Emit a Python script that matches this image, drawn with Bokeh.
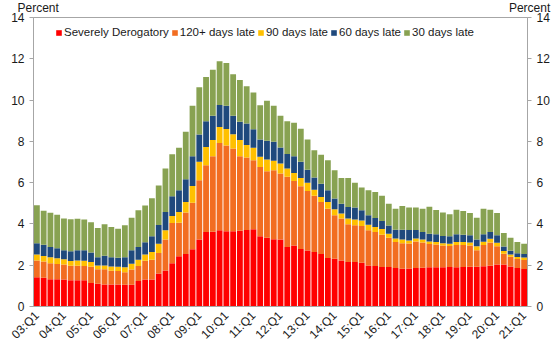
import math
from bokeh.plotting import figure
from bokeh.models import (ColumnDataSource, Range1d, LinearAxis, FixedTicker,
                          Legend, LegendItem, Label)
from bokeh.embed import file_html
from bokeh.resources import INLINE

# ---- data (percent of balance, quarterly 2003:Q1 - 2021:Q1) ----
quarters = [f"{y:02d}:Q{q}" for y in range(3, 22) for q in range(1, 5)][:73]
tick_labels = ["03:Q1", "04:Q1", "05:Q1", "06:Q1", "07:Q1", "08:Q1", "09:Q1",
               "10:Q1", "11:Q1", "12:Q1", "13:Q1", "14:Q1", "15:Q1", "16:Q1",
               "17:Q1", "18:Q1", "19:Q1", "20:Q1", "21:Q1"]

severe = [1.42, 1.39, 1.32, 1.32, 1.31, 1.27, 1.27, 1.27, 1.14, 1.10,
          1.07, 1.07, 1.06, 1.05, 1.05, 1.23, 1.31, 1.31, 1.60, 1.75,
          2.09, 2.44, 2.54, 2.77, 3.24, 3.61, 3.62, 3.69, 3.65, 3.64,
          3.67, 3.70, 3.74, 3.40, 3.33, 3.26, 3.24, 2.88, 2.96, 2.78,
          2.71, 2.64, 2.54, 2.35, 2.31, 2.23, 2.15, 2.15, 2.12, 1.99,
          1.96, 1.91, 1.91, 1.86, 1.83, 1.84, 1.86, 1.88, 1.90, 1.90,
          1.90, 1.91, 1.90, 1.91, 1.92, 1.92, 1.95, 1.98, 2.04, 2.03,
          1.94, 1.87, 1.82]
late120 = [0.81, 0.79, 0.78, 0.74, 0.73, 0.71, 0.71, 0.69, 0.79, 0.70,
           0.74, 0.66, 0.66, 0.61, 0.74, 0.73, 0.91, 0.96, 0.99, 1.49,
           1.96, 1.62, 2.01, 2.25, 2.88, 3.23, 3.66, 4.23, 4.15, 4.01,
           3.61, 3.52, 3.35, 3.36, 3.22, 3.34, 3.20, 3.40, 3.12, 3.05,
           2.89, 2.72, 2.52, 2.39, 2.11, 2.03, 1.83, 1.78, 1.78, 1.70,
           1.65, 1.57, 1.42, 1.26, 1.23, 1.21, 1.29, 1.22, 1.13, 1.10,
           1.05, 1.02, 1.08, 1.07, 1.03, 0.80, 1.03, 1.12, 0.88, 0.52,
           0.47, 0.43, 0.43]
late90 = [0.29, 0.27, 0.28, 0.28, 0.25, 0.23, 0.25, 0.26, 0.23, 0.19,
          0.18, 0.21, 0.21, 0.24, 0.28, 0.31, 0.30, 0.37, 0.45, 0.45,
          0.34, 0.52, 0.51, 0.82, 0.89, 0.89, 0.78, 0.77, 0.80, 0.70,
          0.78, 0.60, 0.60, 0.49, 0.57, 0.46, 0.49, 0.40, 0.39, 0.40,
          0.39, 0.30, 0.25, 0.32, 0.29, 0.24, 0.28, 0.28, 0.27, 0.27,
          0.24, 0.27, 0.20, 0.18, 0.18, 0.15, 0.15, 0.15, 0.12, 0.12,
          0.12, 0.11, 0.14, 0.14, 0.15, 0.20, 0.16, 0.18, 0.17, 0.14,
          0.11, 0.10, 0.12]
late60 = [0.55, 0.54, 0.50, 0.48, 0.44, 0.47, 0.49, 0.51, 0.45, 0.40,
          0.47, 0.45, 0.43, 0.49, 0.65, 0.61, 0.59, 0.76, 0.91, 0.89,
          0.95, 1.05, 1.11, 1.44, 1.32, 1.25, 1.18, 1.07, 1.12, 0.89,
          0.89, 1.05, 0.90, 0.84, 0.91, 0.92, 0.77, 0.71, 0.81, 0.78,
          0.64, 0.59, 0.64, 0.57, 0.52, 0.48, 0.56, 0.58, 0.49, 0.46,
          0.44, 0.39, 0.39, 0.42, 0.48, 0.50, 0.41, 0.36, 0.38, 0.38,
          0.35, 0.36, 0.38, 0.36, 0.35, 0.33, 0.36, 0.33, 0.36, 0.22,
          0.18, 0.18, 0.17]
late30 = [1.83, 1.65, 1.66, 1.63, 1.53, 1.55, 1.53, 1.49, 1.47, 1.41,
          1.52, 1.46, 1.41, 1.54, 1.58, 1.78, 1.78, 1.84, 1.91, 2.10,
          2.04, 2.06, 2.29, 2.44, 2.29, 2.14, 2.23, 2.12, 2.08, 2.01,
          2.02, 1.80, 1.78, 1.66, 1.94, 1.74, 1.54, 1.59, 1.62, 1.60,
          1.46, 1.32, 1.40, 1.46, 1.37, 1.25, 1.41, 1.20, 1.10, 1.21,
          1.26, 1.22, 1.06, 1.02, 1.15, 1.09, 1.08, 1.13, 1.30, 1.18,
          1.13, 1.07, 1.19, 1.15, 1.08, 1.05, 1.24, 1.08, 1.08, 0.65,
          0.63, 0.55, 0.50]

series_names = ["Severely Derogatory", "120+ days late", "90 days late",
                "60 days late", "30 days late"]
colors = ["#FF0000", "#F26D21", "#FFC000", "#1F497D", "#88A252"]
unit_label = "Percent"

FONT = "Liberation Sans"
TXT = "#1a1a1a"
GRAY = "#A6A6A6"

x = list(range(len(quarters)))
keys = ["severe", "late120", "late90", "late60", "late30"]
src = ColumnDataSource(dict(x=x, severe=severe, late120=late120,
                            late90=late90, late60=late60, late30=late30))

p = figure(width=555, height=353, output_backend="svg", toolbar_location=None,
           x_range=Range1d(-0.5, len(quarters) - 0.5), y_range=Range1d(0, 14),
           min_border_left=33, min_border_right=28, min_border_top=17,
           min_border_bottom=47, title=None)
p.grid.visible = False
p.outline_line_color = GRAY
p.background_fill_color = "white"
p.border_fill_color = "white"

rs = p.vbar_stack(keys, x="x", width=0.86, source=src,
                  fill_color=colors, line_color=None)

# x axis
tick_pos = [i for i, q in enumerate(quarters) if q in tick_labels]
p.xaxis.ticker = FixedTicker(ticks=tick_pos)
p.xaxis.major_label_overrides = {i: quarters[i] for i in tick_pos}
p.xaxis.major_label_orientation = math.pi / 4
p.xaxis.major_tick_line_color = None
p.xaxis.major_tick_out = 0
p.xaxis.major_tick_in = 0
p.xaxis.minor_tick_line_color = None
p.xaxis.axis_line_color = GRAY
p.xaxis.major_label_standoff = 7
p.xaxis.major_label_text_font = FONT
p.xaxis.major_label_text_font_size = "12px"
p.xaxis.major_label_text_color = TXT

# y axes (left and right)
yticks = list(range(0, 15, 2))
right = LinearAxis()
p.add_layout(right, "right")
for ax in [p.yaxis[0], right]:
    ax.ticker = FixedTicker(ticks=yticks)
    ax.minor_tick_line_color = None
    ax.axis_line_color = GRAY
    ax.major_tick_line_color = GRAY
    ax.major_tick_out = 4
    ax.major_tick_in = 0
    ax.major_label_standoff = 5
    ax.major_label_text_font = FONT
    ax.major_label_text_font_size = "12px"
    ax.major_label_text_color = TXT

# series legend inside the plot
legend = Legend(items=[LegendItem(label=n, renderers=[r])
                       for n, r in zip(series_names, rs)],
                orientation="horizontal", location=(22, 268),
                border_line_color=None, background_fill_alpha=0,
                padding=0, margin=0, spacing=2, label_standoff=2,
                glyph_width=7, glyph_height=7, label_height=12,
                label_text_font=FONT, label_text_font_size="11.5px",
                label_text_color=TXT, label_text_baseline="middle")
p.add_layout(legend)

# "Percent" unit labels over the left and right axes: a single label hosted in
# the top side panel (not clipped, fits the 17px top border); the two words are
# held apart by non-breaking spaces so they sit above each axis.
gap = "\u00a0" * 135
p.add_layout(Label(x=-0.5, y=14, x_units="data", y_units="data",
                   x_offset=-16, y_offset=10,
                   text=unit_label + gap + unit_label,
                   text_align="left", text_baseline="alphabetic",
                   text_font=FONT, text_font_size="12px",
                   text_color=TXT), "above")

open("out.html", "w").write(file_html(p, INLINE))
